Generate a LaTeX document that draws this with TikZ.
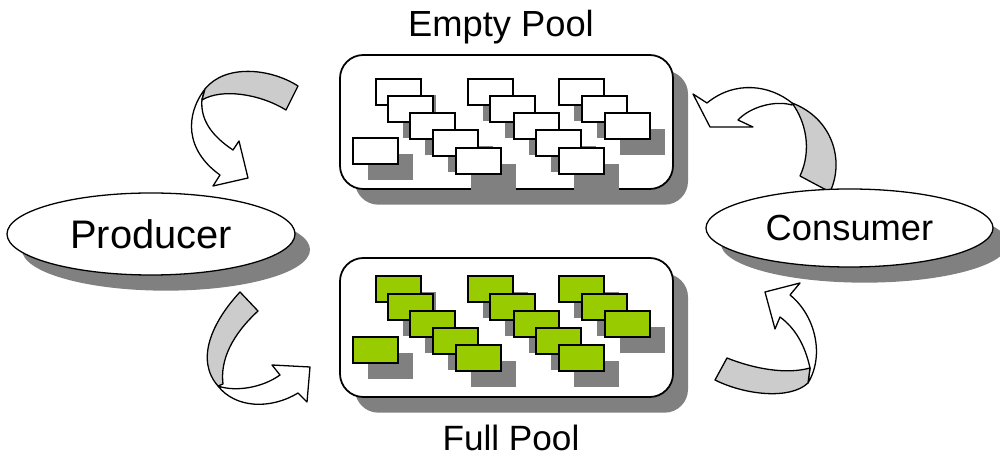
\documentclass[tikz,border=0pt]{standalone}
\usepackage{fontspec}
\setmainfont{Liberation Sans}
\usetikzlibrary{shapes.geometric,shadows}

\definecolor{shadowgray}{RGB}{128,128,128}
\definecolor{bandgray}{RGB}{204,204,204}
\definecolor{slotgreen}{RGB}{153,204,0}

\begin{document}
\begin{tikzpicture}[x=0.03cm, y=-0.03cm,
    dropgray/.style={drop shadow={shadow xshift=0.45cm, shadow yshift=-0.47cm, fill=shadowgray, opacity=1}},
    pool/.style={draw=black, line width=1.5pt, fill=white, rounded corners=0.7cm, minimum width=9.99cm, inner sep=0pt, dropgray},
    slot/.style={draw=black, line width=1.5pt, minimum width=1.35cm, minimum height=0.78cm, inner sep=0pt, anchor=north west, dropgray},
    actor/.style={ellipse, draw=black, line width=1.1pt, fill=white, inner sep=0pt, dropgray},
    band/.style={draw=black, line width=1.1pt, line join=round, fill=bandgray},
    ribbon/.style={draw=black, line width=1.1pt, line join=round, fill=white},
    poollabel/.style={anchor=base, inner sep=0pt, font=\fontsize{30}{36}\selectfont}]
   \useasboundingbox (0,0) rectangle (1000,461);

   % curved arrows
   \filldraw[ribbon] (205,89) .. controls (185,115) and (185,150) .. (220,175) -- (213,186) -- (248,178) -- (239,141) -- (233,150) .. controls (212,136) and (200,120) .. (202,99) -- cycle;
   \filldraw[band] (298,86) .. controls (270,68) and (225,64) .. (205,89) -- (202,100) .. controls (222,88) and (260,94) .. (286,110) -- cycle;

   \filldraw[ribbon] (218,386) .. controls (235,392) and (262,388) .. (280,375) -- (272,365) -- (310,367) -- (307,402) -- (298,393) .. controls (270,410) and (235,408) .. (218,386) -- cycle;
   \filldraw[band] (240,292) .. controls (212,322) and (195,360) .. (218,386) -- (223,384) .. controls (220,360) and (232,335) .. (258,311) -- cycle;

   \filldraw[band] (800,176) -- (830,192) .. controls (845,160) and (832,118) .. (792,103) .. controls (806,122) and (812,150) .. (800,176) -- cycle;
   \filldraw[ribbon] (792,103) .. controls (770,85) and (735,80) .. (707,103) -- (693,94) -- (710,127) -- (753,127) -- (738,120) .. controls (750,107) and (775,100) .. (792,105) -- cycle;

   \filldraw[ribbon] (810,368) .. controls (805,345) and (795,328) .. (780,317) -- (775,329) -- (765,292) -- (800,283) -- (790,295) .. controls (815,315) and (825,355) .. (808,383) -- cycle;
   \filldraw[band] (727,358) .. controls (752,368) and (785,375) .. (810,368) -- (808,383) .. controls (790,400) and (745,395) .. (715,380) -- cycle;

   % pools
   \node[pool, minimum height=4.02cm] (emptypool) at (506.5,122) {};
   \node[pool, minimum height=4.17cm] (fullpool) at (506.5,327.5) {};

   \foreach \x/\y [count=\i] in {375/78, 387/95, 409/112, 432/129, 455/147, 352/137,
        467/78, 489/95, 513/112, 535/129, 558/147, 558/78, 581/95, 604/112}
      \node[slot, fill=white] (eslot\i) at (\x,\y) {};

   \foreach \x/\y [count=\i] in {375/275, 387/293, 409/310, 432/327, 455/344, 352/336,
        467/275, 489/293, 513/310, 535/327, 558/344, 558/275, 581/293, 604/310}
      \node[slot, fill=slotgreen] (fslot\i) at (\x,\y) {};

   \node[poollabel, font=\fontsize{31}{36}\selectfont] (emptylabel) at (501,37) {Empty Pool};
   \node[poollabel] (fulllabel) at (511,451) {Full Pool};

   % producer and consumer
   \node[actor, minimum width=8.64cm, minimum height=2.46cm, font=\fontsize{34}{40}\selectfont] (producer) at (151,234) {Producer};
   \node[actor, minimum width=8.61cm, minimum height=2.34cm, font=\fontsize{31}{36}\selectfont] (consumer) at (849.5,228) {Consumer};
\end{tikzpicture}
\end{document}
